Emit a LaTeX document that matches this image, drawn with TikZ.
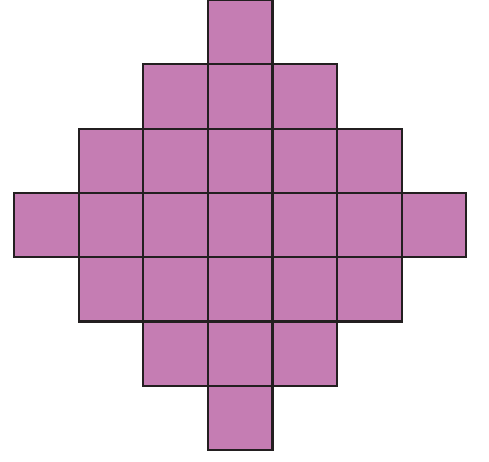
\documentclass[tikz,border=0pt]{standalone}
\usepackage{xcolor}
\definecolor{tilepink}{HTML}{C57DB3}
\definecolor{tileline}{HTML}{231F20}

\begin{document}
\begin{tikzpicture}[
  x=1pt,y=-1pt,
  tile/.style={fill=tilepink,draw=tileline,line width=2.2pt}]
  \useasboundingbox (0,0) rectangle (489,461);
  % rows of the diamond: half-width per row
  \foreach \r/\k in {0/0,1/1,2/2,3/3,4/2,5/1,6/0}{
    \pgfmathtruncatemacro{\lo}{3-\k}
    \pgfmathtruncatemacro{\hi}{3+\k}
    \foreach \c in {\lo,...,\hi}
      \draw[tile] ({14+64.6*\c},{64.3*\r}) rectangle ++(64.6,64.3);
  }
\end{tikzpicture}
\end{document}
